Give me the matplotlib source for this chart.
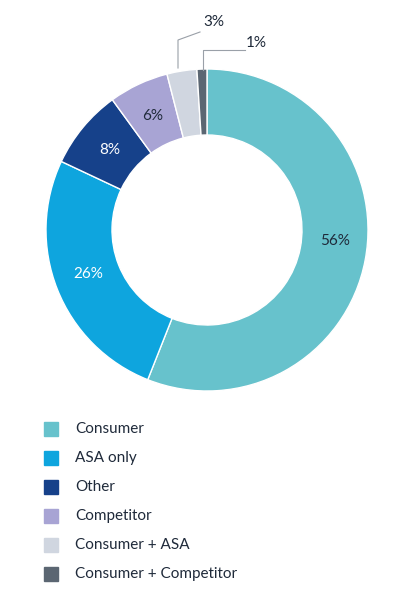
import matplotlib
matplotlib.use('Agg')
import matplotlib.pyplot as plt
from matplotlib.patches import Rectangle

categories = ['Consumer', 'ASA only', 'Other', 'Competitor', 'Consumer + ASA', 'Consumer + Competitor']
shares = [56, 26, 8, 6, 3, 1]
colors = ['#67C2CC', '#0EA5DE', '#16418A', '#A8A4D4', '#D0D6E0', '#5B6672']
label_colors = ['#1f2a3a', 'white', 'white', '#1f2a3a', '#1f2a3a', '#1f2a3a']

plt.rcParams['font.family'] = ['Lato', 'DejaVu Sans']
fig = plt.figure(figsize=(4.14, 6.08), dpi=100)

# pie axes: center (207,230) px, radius 161 px
ax = fig.add_axes([(207 - 161) / 414, 1 - (230 + 161) / 608, 322 / 414, 322 / 608])
wedges, _ = ax.pie(shares, colors=colors, startangle=90, counterclock=False,
                   radius=1, wedgeprops=dict(width=1 - 95 / 161, edgecolor='white', linewidth=1))
ax.set_xlim(-1, 1)
ax.set_ylim(-1, 1)
ax.set_aspect('equal')
ax.axis('off')

def px(x, y):
    return ((x - 207) / 161, (230 - y) / 161)

inside = [(335, 241), (88, 274), (110, 150), (153, 116)]
for i, (x, y) in enumerate(inside):
    ax.text(*px(x, y), f'{shares[i]}%', ha='center', va='center', fontsize=11,
            color=label_colors[i])

# leader-line labels
for pts, lab_pos, i in [([(178, 68), (178, 40), (200, 32)], (214, 22), 4),
                        ([(203, 70), (203, 50), (245, 50)], (256, 43), 5)]:
    xs, ys = zip(*[px(a, b) for a, b in pts])
    ax.plot(xs, ys, color='#9aa0a8', lw=0.8, clip_on=False)
    ax.text(*px(*lab_pos), f'{shares[i]}%', ha='center', va='center', fontsize=11,
            color='#1f2a3a', clip_on=False)

# legend
for i, name in enumerate(categories):
    y = 429 + 29 * i
    fig.patches.append(Rectangle((44 / 414, 1 - (y + 7) / 608), 14 / 414, 14 / 608,
                                 transform=fig.transFigure, color=colors[i]))
    fig.text(75 / 414, 1 - y / 608, name, ha='left', va='center', fontsize=11, color='#1f2a3a')

fig.savefig('out.png', dpi=100)
